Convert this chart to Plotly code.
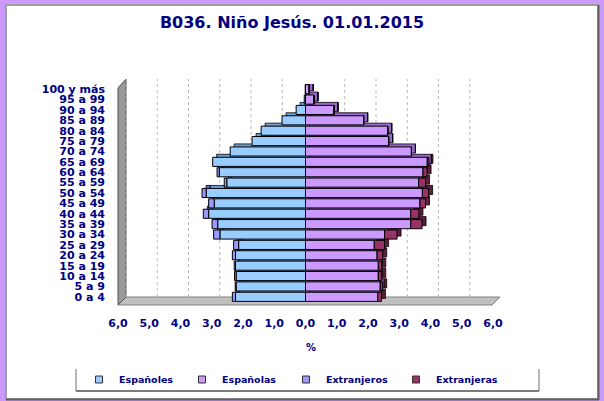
import plotly.graph_objects as go

ages = ["0 a 4", "5 a 9", "10 a 14", "15 a 19", "20 a 24", "25 a 29", "30 a 34",
        "35 a 39", "40 a 44", "45 a 49", "50 a 54", "55 a 59", "60 a 64", "65 a 69",
        "70 a 74", "75 a 79", "80 a 84", "85 a 89", "90 a 94", "95 a 99", "100 y más"]

espanoles = [2.24, 2.22, 2.22, 2.24, 2.24, 2.14, 2.74, 2.81, 3.10, 2.92, 3.18,
             2.52, 2.76, 2.97, 2.41, 1.71, 1.42, 0.75, 0.30, 0.04, 0.01]
extranjeros = [0.10, 0.03, 0.05, 0.04, 0.10, 0.16, 0.20, 0.18, 0.17, 0.18, 0.13,
               0.08, 0.07, 0.00, 0.00, 0.00, 0.00, 0.00, 0.00, 0.00, 0.00]
espanolas = [2.31, 2.39, 2.33, 2.33, 2.29, 2.20, 2.53, 3.37, 3.37, 3.66, 3.74,
             3.62, 3.76, 3.90, 3.39, 2.66, 2.63, 1.86, 0.91, 0.27, 0.12]
extranjeras = [0.12, 0.08, 0.11, 0.11, 0.18, 0.33, 0.40, 0.36, 0.26, 0.18, 0.20,
               0.22, 0.13, 0.05, 0.00, 0.00, 0.00, 0.00, 0.00, 0.00, 0.00]

tick_vals = [-6, -5, -4, -3, -2, -1, 0, 1, 2, 3, 4, 5, 6]
tick_text = ["6,0", "5,0", "4,0", "3,0", "2,0", "1,0", "0,0", "1,0", "2,0", "3,0", "4,0", "5,0", "6,0"]

series_names = ["Españoles", "Españolas", "Extranjeros", "Extranjeras"]
front_colors = ["#99CCFF", "#CC99FF", "#9999FF", "#993366"]
back_colors = ["#6F9FD0", "#9966CC", "#6666CC", "#5C1F3D"]

NAVY = "#000080"
FONT = "DejaVu Sans"

# plot area in pixels
X0, X1, Y0, Y1 = 118, 493, 84, 302
W, H = 604, 401
PX_PER_UNIT = (X1 - X0) / 12
PX_PER_CAT = (Y1 - Y0) / 21
DX, DY = 4, 3  # 3D depth of the bars (px)


def px(x):
    return (x - X0) / (X1 - X0)


def py(y):
    return (Y1 - y) / (Y1 - Y0)


values = [[-v for v in espanoles], espanolas, [-v for v in extranjeros], extranjeras]

fig = go.Figure()
line = dict(color="black", width=1)
# back faces (depth) on the hidden shifted axes
for name, vals, col in zip(series_names, values, back_colors):
    fig.add_bar(y=ages, x=vals, orientation="h", name=name, showlegend=False,
                marker=dict(color=col, line=dict(color="black", width=0.8)),
                xaxis="x", yaxis="y", hoverinfo="skip")
# front faces on the visible axes
for name, vals, col in zip(series_names, values, front_colors):
    fig.add_bar(y=ages, x=vals, orientation="h", name=name, showlegend=False,
                marker=dict(color=col, line=line), xaxis="x2", yaxis="y2")
# legend entries with small square keys, each in its own legend box
legend_ids = ["legend", "legend2", "legend3", "legend4"]
for name, col, lid in zip(series_names, front_colors, legend_ids):
    fig.add_scatter(x=[None], y=[None], mode="markers", name=name, xaxis="x2", yaxis="y2", legend=lid,
                    marker=dict(symbol="square", size=7, color=col, line=dict(color="#333333", width=1)))

shapes = []
# white panel with border
shapes.append(dict(type="rect", xref="paper", yref="paper", x0=px(6), x1=px(598), y0=py(5), y1=py(399),
                   fillcolor="white", line=dict(color="#A0A0A0", width=2), layer="below"))
shapes.append(dict(type="line", xref="paper", yref="paper", x0=px(598.5), x1=px(598.5), y0=py(5), y1=py(400),
                   line=dict(color="#606060", width=2), layer="below"))
shapes.append(dict(type="line", xref="paper", yref="paper", x0=px(6), x1=px(599), y0=py(399.5), y1=py(399.5),
                   line=dict(color="#606060", width=2), layer="below"))
# floor
shapes.append(dict(type="path", xref="paper", yref="paper",
                   path=f"M {px(118)},{py(305)} L {px(492)},{py(305)} L {px(500)},{py(297)} L {px(126)},{py(297)} Z",
                   fillcolor="#C0C0C0", line=dict(color="#808080", width=1), layer="below"))
# left wall
shapes.append(dict(type="path", xref="paper", yref="paper",
                   path=f"M {px(118)},{py(305)} L {px(118)},{py(88)} L {px(126)},{py(79)} L {px(126)},{py(297)} Z",
                   fillcolor="#9A9A9A", line=dict(color="#505050", width=1), layer="below"))
# dashed gridlines on the back wall
for v in tick_vals:
    if v == 0:
        continue
    shapes.append(dict(type="line", xref="x2", yref="paper", x0=v + 8 / PX_PER_UNIT, x1=v + 8 / PX_PER_UNIT,
                       y0=py(297), y1=py(79), line=dict(color="#B8B8B8", width=1, dash="dot"), layer="below"))
# legend box
shapes.append(dict(type="line", xref="paper", yref="paper", x0=px(76), x1=px(76), y0=py(369), y1=py(391),
                   line=dict(color="#A0A0A0", width=1.5)))
shapes.append(dict(type="line", xref="paper", yref="paper", x0=px(539), x1=px(539), y0=py(369), y1=py(391),
                   line=dict(color="#A0A0A0", width=1.5)))
shapes.append(dict(type="line", xref="paper", yref="paper", x0=px(76), x1=px(539), y0=py(391), y1=py(391),
                   line=dict(color="#505050", width=1.5)))

sx = DX / PX_PER_UNIT
sy = DY / PX_PER_CAT
tickfont = dict(family=FONT, size=11, color=NAVY, weight="bold")

fig.update_layout(
    width=W, height=H,
    margin=dict(l=X0, r=W - X1, t=Y0, b=H - Y1, pad=0, autoexpand=False),
    paper_bgcolor="#CC99FF",
    plot_bgcolor="rgba(0,0,0,0)",
    barmode="relative",
    bargap=0.12,
    title=dict(text="<b>B036. Niño Jesús. 01.01.2015</b>", xref="container", x=292 / W, xanchor="center",
               yref="container", y=1 - 22 / H, yanchor="middle", font=dict(family=FONT, size=16, color=NAVY)),
    font=dict(family=FONT, color=NAVY),
    xaxis=dict(range=[-6 - sx, 6 - sx], showticklabels=False, ticks="", showgrid=False,
               zeroline=False, showline=False, fixedrange=True, automargin=False),
    yaxis=dict(range=[-0.5 - sy, 20.5 - sy], showticklabels=False, ticks="", showgrid=False,
               zeroline=False, showline=False, fixedrange=True, automargin=False),
    xaxis2=dict(range=[-6, 6], tickmode="array", tickvals=tick_vals, ticktext=tick_text, showgrid=False,
                zeroline=True, zerolinecolor="black", zerolinewidth=1.5, overlaying="x",
                tickfont=tickfont, ticklabelstandoff=13, showline=False, fixedrange=True, anchor="y2",
                automargin=False),
    yaxis2=dict(range=[-0.5, 20.5], tickmode="array", tickvals=ages, ticktext=ages, showgrid=False,
                tickfont=tickfont, ticklabelstandoff=12, showline=False, fixedrange=True,
                overlaying="y", anchor="x2", side="left", automargin=False),
    shapes=shapes,
    annotations=[dict(text="<b>%</b>", xref="paper", yref="paper", x=px(311), y=py(347), yanchor="middle",
                      showarrow=False, font=dict(family=FONT, size=10, color=NAVY))],
)

legend_text_x = [125, 228, 332, 442]
for lid, tx in zip(legend_ids, legend_text_x):
    fig.update_layout({lid: dict(orientation="h", xref="container", yref="container",
                                 x=(tx - 46) / W, y=1 - 365 / H, xanchor="left", yanchor="top",
                                 bgcolor="rgba(0,0,0,0)",
                                 font=dict(family=FONT, size=9.5, color=NAVY, weight="bold"),
                                 itemsizing="trace")})

fig.write_html("out.html", config={"displayModeBar": False},
               post_script="document.body.style.margin='0';document.body.style.overflow='hidden';")
